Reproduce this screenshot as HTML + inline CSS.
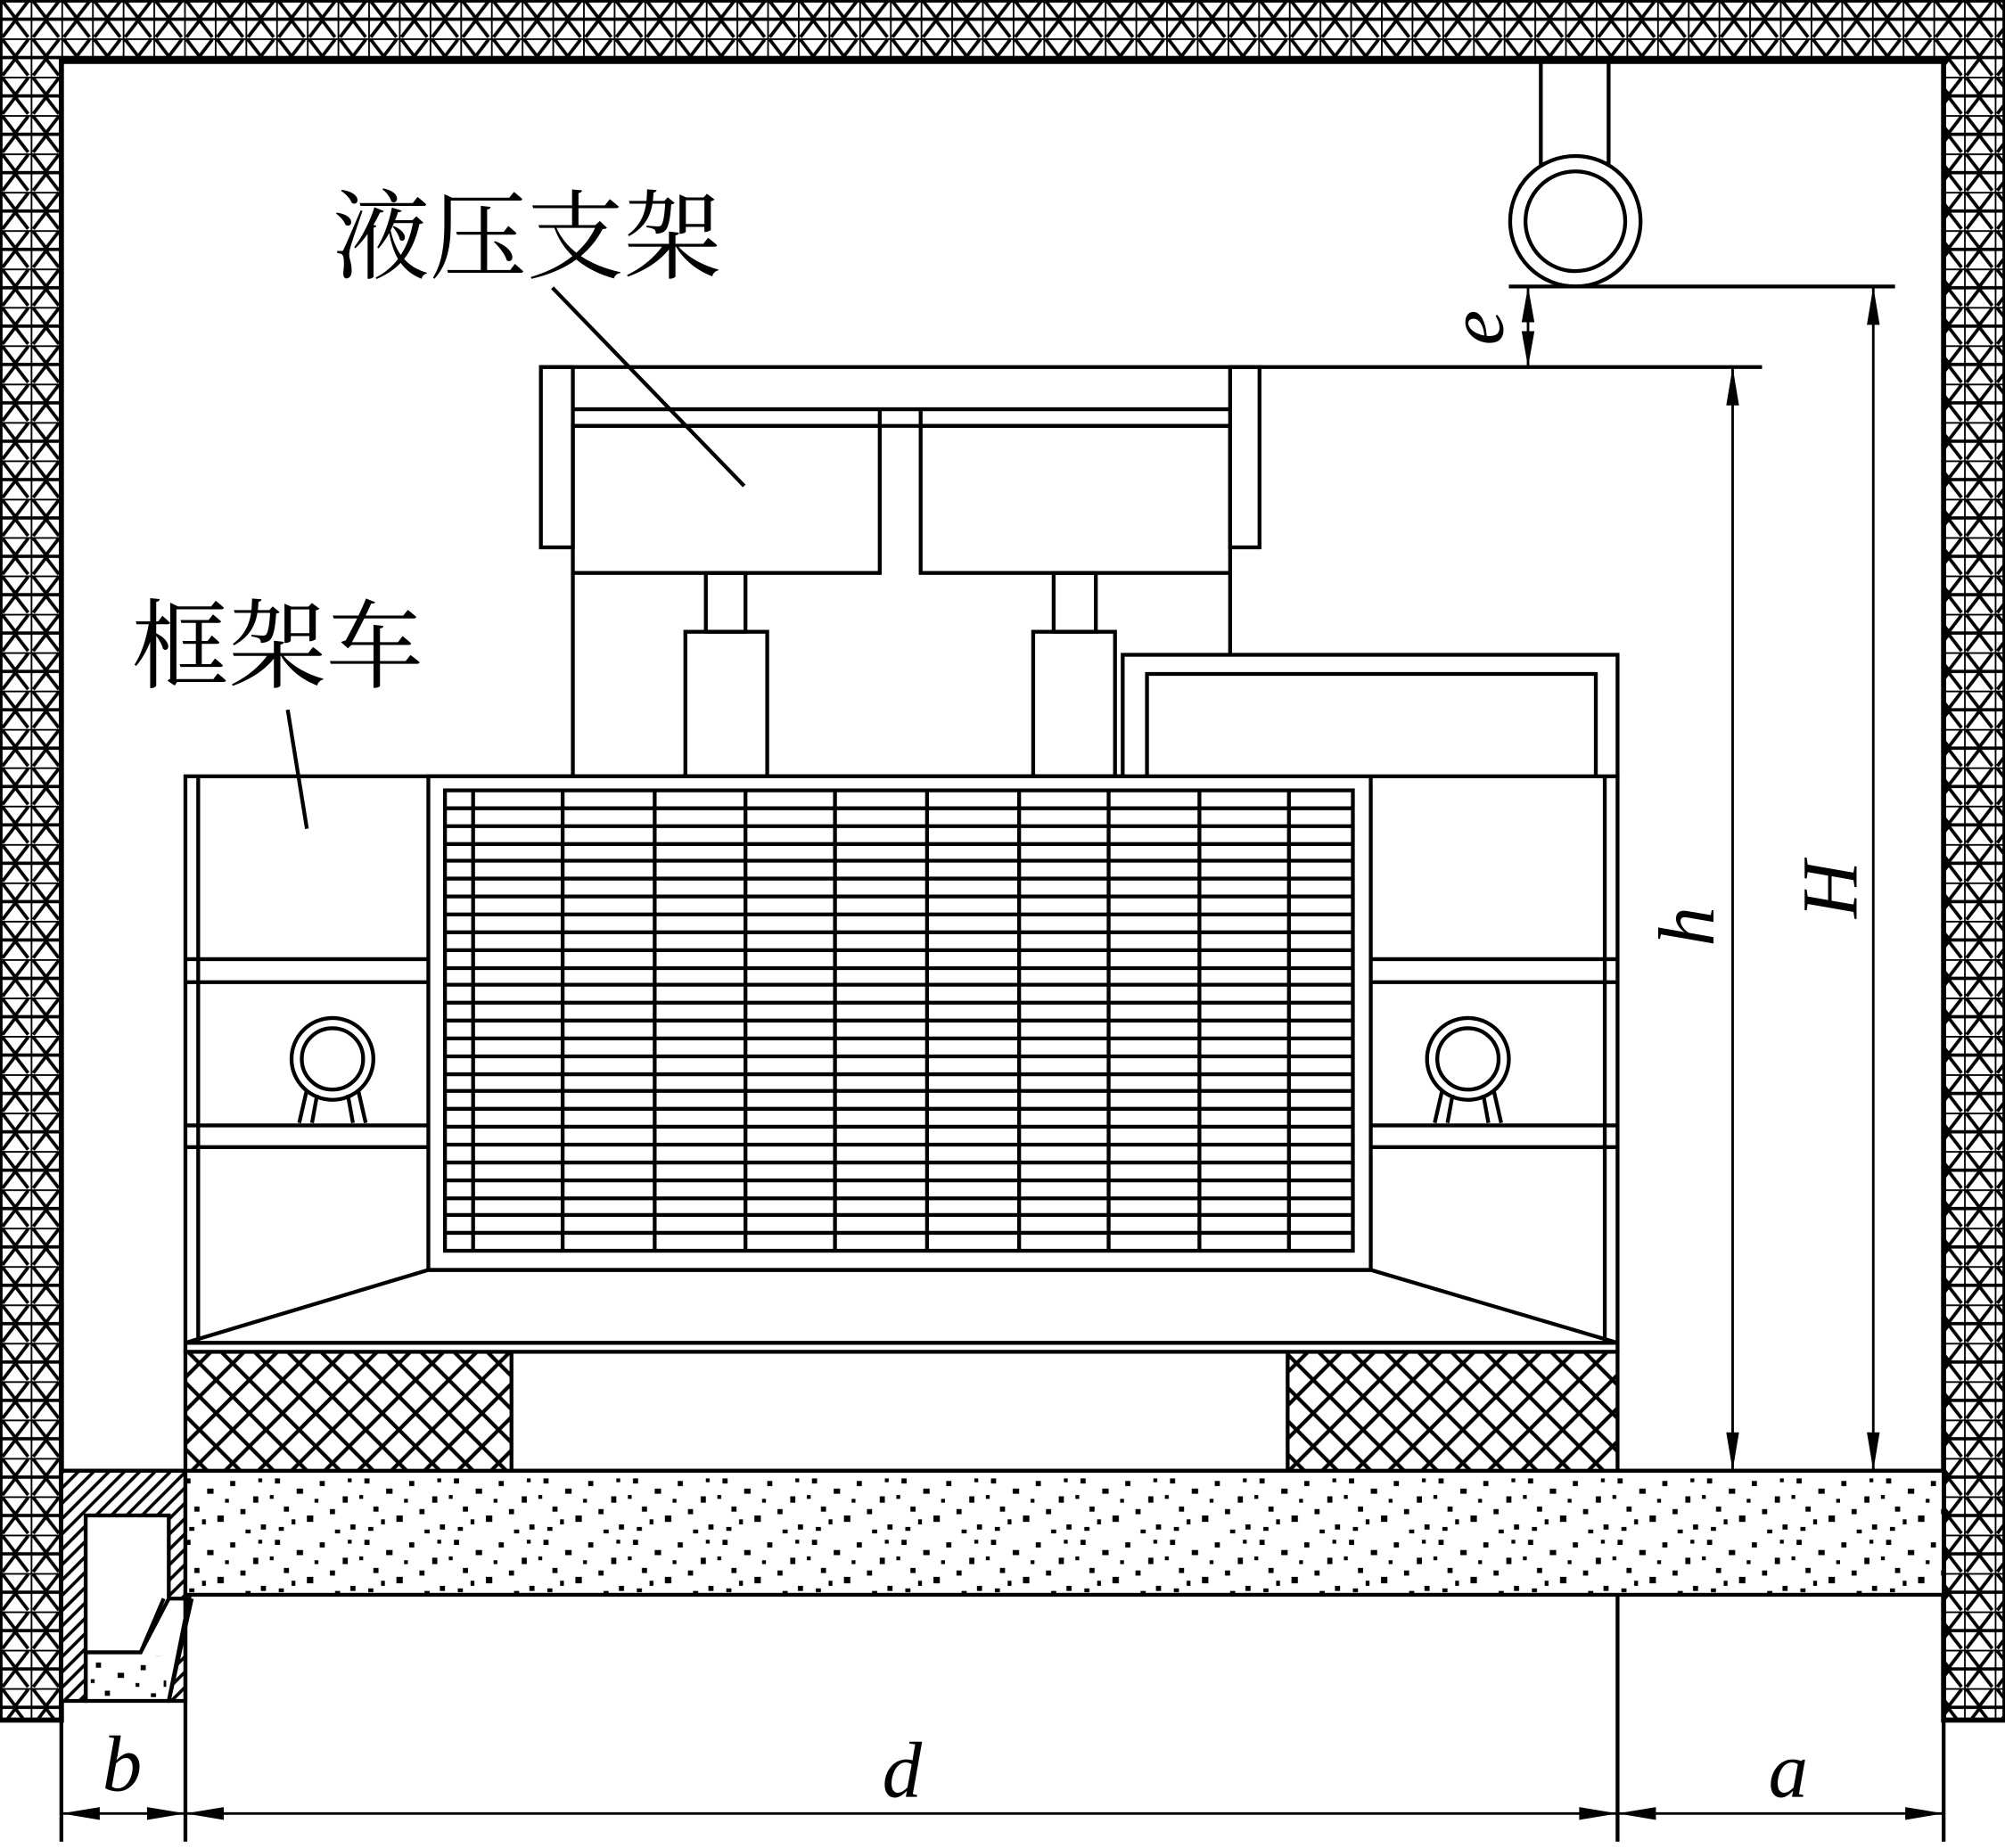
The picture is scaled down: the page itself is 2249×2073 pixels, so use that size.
<!DOCTYPE html>
<html><head><meta charset="utf-8"><style>html,body{margin:0;padding:0;background:#fff}svg{display:block}</style></head>
<body>
<svg width="2249" height="2073" viewBox="0 0 1568 1445" preserveAspectRatio="none" xmlns="http://www.w3.org/2000/svg">
<defs>
<pattern id="wall" width="24" height="30" patternUnits="userSpaceOnUse">
<rect width="24" height="30" fill="#fff"/>
<path d="M0 0H24M0 15H24M2 1L12 14L22 1M2 29L12 16L22 29M0 0V30" stroke="#000" stroke-width="2.6" fill="none"/>
</pattern>
<pattern id="xh" width="26" height="26" patternUnits="userSpaceOnUse">
<rect width="26" height="26" fill="#fff"/>
<path d="M0 0L26 26M26 0L0 26" stroke="#000" stroke-width="3"/>
</pattern>
<pattern id="hatch" width="12" height="12" patternUnits="userSpaceOnUse">
<rect width="12" height="12" fill="#fff"/>
<path d="M0 12L12 0M-3 3L3 -3M9 15L15 9" stroke="#000" stroke-width="2.5"/>
</pattern>
<pattern id="dots" width="70" height="48" patternUnits="userSpaceOnUse">
<rect width="70" height="48" fill="#fff"/>
<g fill="#000"><rect x="5" y="4" width="4" height="4"/><rect x="22" y="12" width="5" height="4"/><rect x="40" y="6" width="4" height="4"/><rect x="58" y="18" width="4" height="5"/><rect x="12" y="26" width="4" height="4"/><rect x="30" y="33" width="5" height="5"/><rect x="48" y="28" width="4" height="4"/><rect x="64" y="40" width="4" height="4"/><rect x="8" y="42" width="4" height="3"/><rect x="36" y="20" width="3" height="3"/><rect x="52" y="44" width="4" height="3"/><rect x="18" y="36" width="3" height="4"/><rect x="62" y="4" width="3" height="3"/><rect x="1" y="17" width="3" height="3"/></g>
</pattern>
</defs>
<rect width="1568" height="1445" fill="#fff"/>
<g stroke="#000" stroke-width="3" fill="none">
<path d="M0 0H1568V1345H1520V48H48V1345H0Z" fill="url(#wall)" stroke-width="4"/>
<path d="M48 1150H145V1330H132L148 1250H132V1185H67V1330H48Z" fill="url(#hatch)"/>
<path d="M67 1292H110L132 1250V1185H67Z" fill="#fff"/>
<rect x="70" y="1295" width="60" height="32" fill="url(#dots)" stroke="none"/>
<path d="M67 1292H110L128 1250 M67 1292V1330H132L150 1250" />
<rect x="145" y="1150" width="1375" height="97" fill="url(#dots)"/>
<path d="M48 1150H1520"/>
<path d="M48 1345V1440M145 1247V1440M1265 1247V1440M1520 1345V1440"/>
<path d="M48 1418H1520" stroke-width="2"/>
<g fill="#000" stroke="none">
<path d="M48 1418l30-5v10z"/><path d="M145 1418l-30-5v10z"/><path d="M145 1418l30-5v10z"/><path d="M1265 1418l-30-5v10z"/><path d="M1265 1418l30-5v10z"/><path d="M1520 1418l-30-5v10z"/>
</g>
<rect x="145" y="1057" width="255" height="93" fill="url(#xh)"/>
<rect x="1007" y="1057" width="258" height="93" fill="url(#xh)"/>
<rect x="145" y="607" width="1120" height="450" fill="#fff"/>
<path d="M145 1050H1265M155 607V1050M1255 607V1050"/>
<path d="M145 1050L335 993H1072L1265 1050"/>
<rect x="335" y="607" width="737" height="386"/>
<rect x="348" y="618" width="710" height="360"/>
<path d="M145 750H335M145 768H335M145 880H335M145 897H335M1072 750H1265M1072 768H1265M1072 880H1265M1072 897H1265"/>
<path d="M370 618V978M440 618V978M512 618V978M583 618V978M653 618V978M725 618V978M797 618V978M867 618V978M938 618V978M1008 618V978"/>
<path d="M348 632H1058M348 646H1058M348 660H1058M348 673H1058M348 687H1058M348 701H1058M348 715H1058M348 729H1058M348 743H1058M348 757H1058M348 770H1058M348 784H1058M348 798H1058M348 812H1058M348 826H1058M348 840H1058M348 853H1058M348 867H1058M348 881H1058M348 895H1058M348 909H1058M348 923H1058M348 937H1058M348 950H1058M348 964H1058"/>
<circle cx="260" cy="828" r="32"/><circle cx="260" cy="828" r="24"/>
<path d="M240 852L234 878M248 856L244 878M272 856L276 878M280 852L286 878"/>
<circle cx="1148" cy="828" r="32"/><circle cx="1148" cy="828" r="24"/>
<path d="M1128 852L1122 878M1136 856L1132 878M1160 856L1164 878M1168 852L1174 878"/>
<path d="M423 287H1378"/>
<rect x="423" y="287" width="25" height="141"/><rect x="962" y="287" width="23" height="141"/>
<path d="M448 320H962M448 333H962M688 320V333M720 320V333"/>
<rect x="448" y="333" width="240" height="115"/><rect x="720" y="333" width="242" height="115"/>
<path d="M448 448V607M962 448V512"/>
<rect x="552" y="448" width="31" height="46"/><rect x="536" y="494" width="64" height="113"/>
<rect x="824" y="448" width="33" height="46"/><rect x="808" y="494" width="64" height="113"/>
<rect x="878" y="512" width="387" height="95" fill="#fff"/>
<path d="M897 607V527H1248V607"/>
<path d="M1205 48V140M1258 48V140"/>
<circle cx="1232" cy="173" r="51" fill="#fff"/><circle cx="1232" cy="173" r="39"/>
<path d="M1180 224H1482"/>
<path d="M1195 224V287M1355 287V1150M1465 224V1150" stroke-width="2"/>
<g fill="#000" stroke="none">
<path d="M1195 224l-5 28h10z"/><path d="M1195 287l-5-28h10z"/>
<path d="M1355 287l-5 30h10z"/><path d="M1355 1150l-5-30h10z"/>
<path d="M1465 224l-5 30h10z"/><path d="M1465 1150l-5-30h10z"/>
</g>
<path d="M432 225L582 380M225 555L240 648"/>
</g>
<g font-family="Liberation Serif, serif" font-style="italic" font-size="62" fill="#000">
<text x="80" y="1400">b</text>
<text x="690" y="1405">d</text>
<text x="1383" y="1405">a</text>
<text transform="translate(1175,270) rotate(-90)">e</text>
<text transform="translate(1340,740) rotate(-90)">h</text>
<text transform="translate(1452,718) rotate(-90)">H</text>
</g>
<g font-family="Liberation Serif, 'Noto Serif CJK SC', serif" font-size="76" fill="#000">
<text x="260" y="212">液压支架</text>
<text x="103" y="532">框架车</text>
</g>
</svg>
</body></html>
